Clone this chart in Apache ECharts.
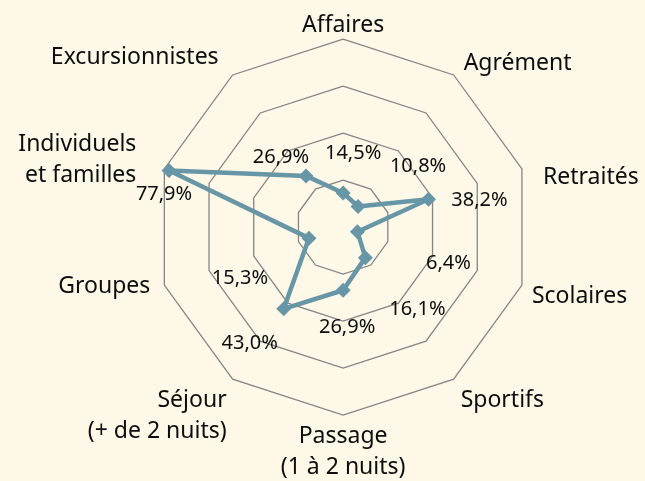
<!DOCTYPE html>
<html>
<head>
<meta charset="utf-8">
<script src="https://cdn.jsdelivr.net/npm/echarts@6/dist/echarts.min.js"></script>
<style>
  html, body { margin: 0; padding: 0; background: #fdf8e7; }
  #chart { width: 645px; height: 481px; }
</style>
</head>
<body>
<div id="chart"></div>
<script>
// clientele par type (en %), dans l'ordre horaire depuis le haut
var categories = ['Affaires', 'Agrément', 'Retraités', 'Scolaires', 'Sportifs',
  'Passage\n(1 à 2 nuits)', 'Séjour\n(+ de 2 nuits)', 'Groupes', 'Individuels\net familles', 'Excursionnistes'];
var values = [14.5, 10.8, 38.2, 6.4, 16.1, 26.9, 43.0, 15.3, 77.9, 26.9];
var axisMax = 80;

// placement des etiquettes (px), a la maniere du graphique d'origine
var valueLabelOffset = [[10, -40], [60, -40], [51, 1], [91, 32], [52, 52],
  [4, 37], [-34, 35], [-69, 40], [-5, 24], [-25, -19]];
var nameLabelOffset = [[0, -14], [10, -11], [21, 9], [10, 11], [7, 21],
  [0, 37], [-6, 37], [-14, 1], [-28, -9], [-14, -17]];
var nameAlign = ['center', 'left', 'left', 'left', 'left', 'center', 'right', 'right', 'right', 'right'];

var lineColor = '#6797a6';
var textColor = '#0d0d0d';
var fontFamily = '"Noto Sans", sans-serif';
var center = ['53.2%', '47.2%'];
var radius = 188;

var step = 360 / categories.length;

// le radar d'ECharts tourne dans le sens anti-horaire : on inverse l'ordre apres le premier axe
var radarOrder = categories.map(function (c, i) { return i === 0 ? 0 : categories.length - i; });
var radarIndicators = radarOrder.map(function (i) { return { name: categories[i], min: 0, max: axisMax }; });
var radarValues = radarOrder.map(function (i) { return values[i]; });

var valueLabels = values.map(function (v, i) {
  return {
    value: [v, i * step],
    label: { offset: valueLabelOffset[i] }
  };
});
var nameLabels = categories.map(function (c, i) {
  return {
    value: [axisMax, i * step],
    name: c,
    label: { offset: nameLabelOffset[i], align: nameAlign[i] }
  };
});

var chart = echarts.init(document.getElementById('chart'));
chart.setOption({
  backgroundColor: '#fdf8e7',
  animation: false,
  radar: {
    center: center,
    radius: radius,
    startAngle: 90,
    shape: 'polygon',
    splitNumber: 4,
    indicator: radarIndicators,
    axisName: { show: false },
    axisLine: { show: false },
    axisTick: { show: false },
    axisLabel: { show: false },
    splitArea: { show: false },
    splitLine: { lineStyle: { color: '#858585', width: 1.3 } }
  },
  polar: { center: center, radius: radius },
  angleAxis: {
    type: 'value', min: 0, max: 360, startAngle: 90, clockwise: true, show: false,
    axisLine: { show: false }, splitLine: { show: false }, axisLabel: { show: false }, axisTick: { show: false }
  },
  radiusAxis: {
    type: 'value', min: 0, max: axisMax, show: false,
    axisLine: { show: false }, splitLine: { show: false }, axisLabel: { show: false }, axisTick: { show: false }
  },
  series: [
    {
      type: 'radar',
      symbol: 'diamond',
      symbolSize: 15,
      lineStyle: { color: lineColor, width: 4.5 },
      itemStyle: { color: lineColor },
      data: [{ value: radarValues, name: 'Clientèle' }]
    },
    {
      type: 'scatter',
      coordinateSystem: 'polar',
      symbolSize: 1,
      itemStyle: { color: 'rgba(0,0,0,0)' },
      silent: true,
      label: {
        show: true,
        position: 'inside',
        color: textColor,
        opacity: 1,
        textBorderWidth: 0,
        fontFamily: fontFamily,
        fontSize: 20,
        formatter: function (p) { return values[p.dataIndex].toFixed(1).replace('.', ',') + '%'; }
      },
      data: valueLabels
    },
    {
      type: 'scatter',
      coordinateSystem: 'polar',
      symbolSize: 1,
      itemStyle: { color: 'rgba(0,0,0,0)' },
      silent: true,
      label: {
        show: true,
        position: 'inside',
        verticalAlign: 'middle',
        color: textColor,
        opacity: 1,
        textBorderWidth: 0,
        fontFamily: fontFamily,
        fontSize: 23,
        lineHeight: 31,
        formatter: function (p) { return categories[p.dataIndex]; }
      },
      data: nameLabels
    }
  ]
});
</script>
</body>
</html>
